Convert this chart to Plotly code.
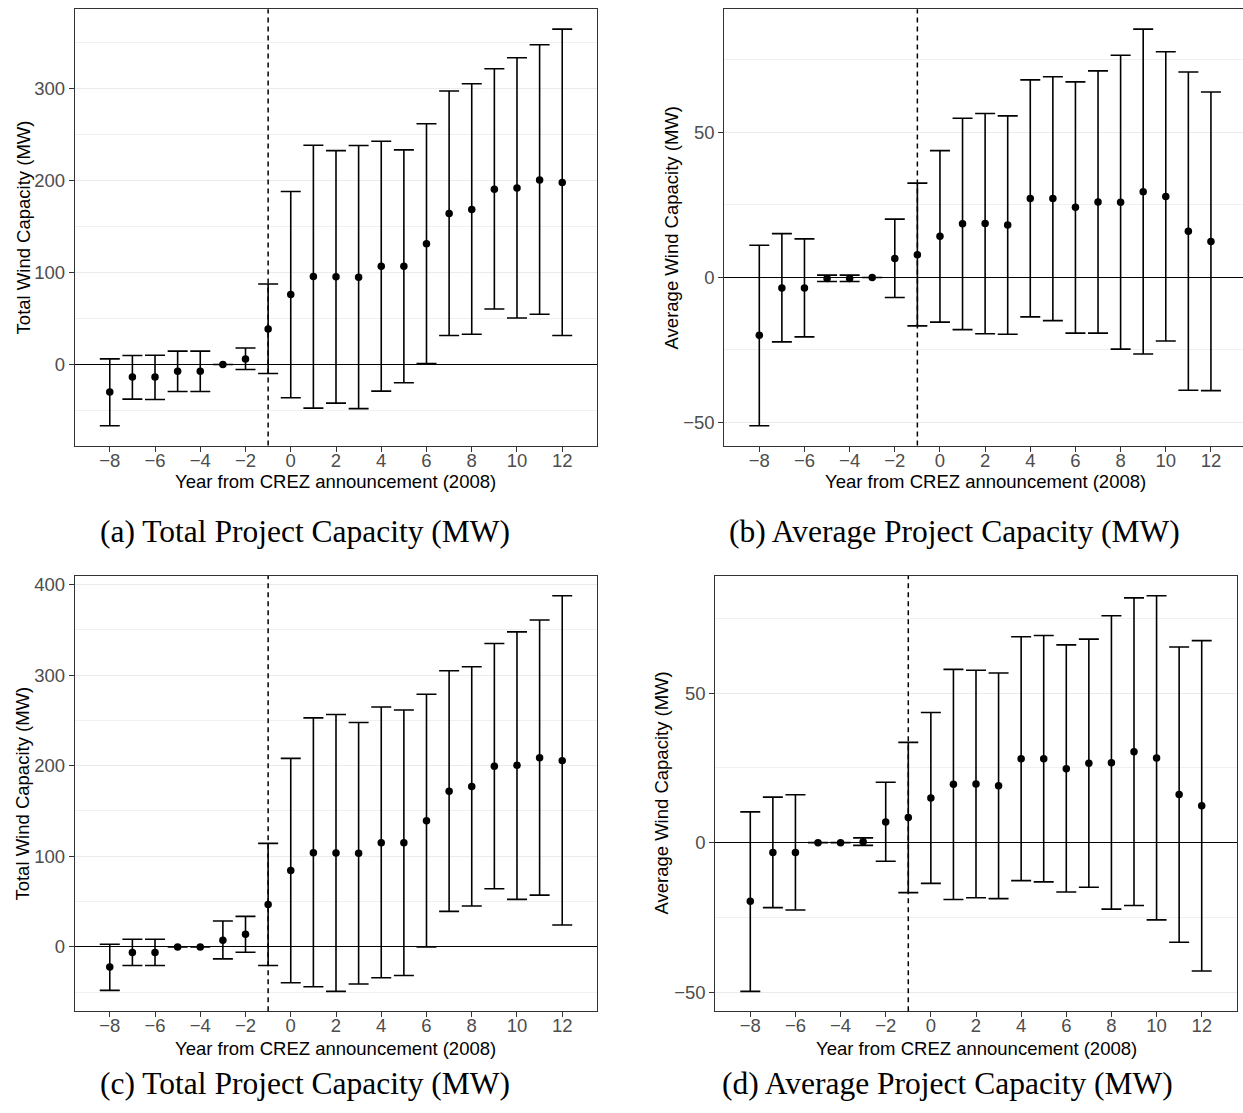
import plotly.graph_objects as go

# Event-study estimates with 95% confidence bounds, by year relative to 2008
years = [-8, -7, -6, -5, -4, -3, -2, -1, 0, 1, 2, 3, 4, 5, 6, 7, 8, 9, 10, 11, 12]

# (a) Total project capacity (MW)
a_est = [-30.0, -13.7, -13.7, -7.2, -7.2, 0.0, 6.1, 38.7, 76.0, 95.8, 95.5, 94.8, 106.7, 106.7, 131.3, 164.2, 168.5, 190.6, 192.0, 200.7, 197.8]
a_lo = [-66.5, -37.6, -38.0, -29.3, -29.3, 0.0, -5.4, -9.8, -36.2, -47.4, -42.0, -48.0, -28.9, -19.9, 1.1, 31.5, 32.9, 60.4, 50.6, 54.6, 31.5]
a_hi = [6.1, 9.8, 10.0, 14.5, 14.5, 0.0, 18.0, 87.5, 188.0, 238.3, 232.5, 238.0, 242.7, 233.3, 261.8, 297.3, 305.2, 321.5, 333.5, 347.6, 364.6]

# (b) Average project capacity (MW)
b_est = [-19.95, -3.67, -3.67, -0.34, -0.34, 0.0, 6.5, 7.8, 14.2, 18.5, 18.6, 18.1, 27.2, 27.2, 24.2, 26.0, 25.9, 29.5, 27.9, 15.9, 12.4]
b_lo = [-51.1, -22.2, -20.5, -1.4, -1.4, 0.0, -6.9, -16.7, -15.4, -18.0, -19.4, -19.6, -13.6, -14.9, -19.2, -19.2, -24.7, -26.4, -21.9, -38.9, -39.0]
b_hi = [11.1, 15.1, 13.3, 0.8, 0.8, 0.0, 20.1, 32.5, 43.7, 54.9, 56.5, 55.7, 68.1, 69.2, 67.4, 71.2, 76.6, 85.6, 77.8, 70.8, 63.9]

# (c) Total project capacity (MW), alternative specification
c_est = [-22.3, -6.2, -6.2, 0.0, 0.0, 7.3, 13.9, 46.9, 84.2, 104.0, 103.7, 103.3, 115.0, 115.0, 139.2, 171.8, 176.9, 199.3, 200.4, 208.8, 205.5]
c_lo = [-48.0, -20.5, -20.5, 0.0, 0.0, -13.2, -5.9, -20.5, -39.6, -44.0, -49.1, -41.0, -34.1, -31.5, 0.0, 39.2, 45.1, 64.1, 52.4, 57.1, 24.2]
c_hi = [2.9, 8.4, 8.4, 0.0, 0.0, 28.6, 33.7, 114.3, 208.0, 252.7, 256.4, 247.6, 264.8, 261.5, 278.8, 304.8, 309.2, 334.8, 347.6, 360.8, 387.5]

# (d) Average project capacity (MW), alternative specification
d_est = [-19.6, -3.3, -3.3, 0.0, 0.0, 0.3, 6.9, 8.4, 14.9, 19.5, 19.6, 19.0, 28.0, 28.0, 24.7, 26.5, 26.7, 30.4, 28.3, 16.1, 12.3]
d_lo = [-49.7, -21.7, -22.5, 0.0, 0.0, -0.9, -6.2, -16.7, -13.6, -19.0, -18.4, -18.7, -12.7, -13.1, -16.5, -14.9, -22.2, -21.0, -25.8, -33.3, -42.9]
d_hi = [10.3, 15.2, 16.0, 0.0, 0.0, 1.6, 20.2, 33.5, 43.5, 57.9, 57.6, 56.7, 68.8, 69.2, 66.1, 68.0, 75.8, 81.8, 82.5, 65.4, 67.5]

x_ticks = [-8, -6, -4, -2, 0, 2, 4, 6, 8, 10, 12]
event_year = -1
x_title = "Year from CREZ announcement (2008)"
total_title = "Total Wind Capacity (MW)"
avg_title = "Average Wind Capacity (MW)"
captions = ["(a) Total Project Capacity (MW)", "(b) Average Project Capacity (MW)",
            "(c) Total Project Capacity (MW)", "(d) Average Project Capacity (MW)"]

W, H = 1243, 1113
SANS = "Liberation Sans, Arial, sans-serif"
SERIF = "Liberation Serif, Times New Roman, serif"


def px_x(p):
    return p / W


def px_y(p):
    return 1 - p / H


# panel layout: (left, right, top, bottom) in pixels, x range, y-grid steps
panels = [
    dict(est=a_est, lo=a_lo, hi=a_hi, box=(74.7, 597.3, 7.3, 444.3), xr=[-9.55, 13.55],
         dtick=100, minor=50, ytitle=total_title, ytx=23, xtx=336, xty=480, cap=(305, 530), right=True),
    dict(est=b_est, lo=b_lo, hi=b_hi, box=(724.3, 1243, 7.3, 444.3), xr=[-9.55, 13.42],
         dtick=50, minor=25, ytitle=avg_title, ytx=671, xtx=985, xty=480, cap=(954, 530), right=False),
    dict(est=c_est, lo=c_lo, hi=c_hi, box=(74.7, 597.3, 575, 1011), xr=[-9.55, 13.55],
         dtick=100, minor=50, ytitle=total_title, ytx=23, xtx=336, xty=1048, cap=(305, 1083), right=True),
    dict(est=d_est, lo=d_lo, hi=d_hi, box=(715.3, 1236.7, 575, 1011), xr=[-9.55, 13.55],
         dtick=50, minor=25, ytitle=avg_title, ytx=662, xtx=976, xty=1048, cap=(947, 1083), right=True),
]

fig = go.Figure()
annotations = []
shapes = []

for i, p in enumerate(panels, start=1):
    xa = "x" if i == 1 else f"x{i}"
    ya = "y" if i == 1 else f"y{i}"
    up = [h - e for h, e in zip(p["hi"], p["est"])]
    dn = [e - l for e, l in zip(p["est"], p["lo"])]
    fig.add_trace(go.Scatter(
        x=years, y=p["est"], mode="markers", xaxis=xa, yaxis=ya, showlegend=False,
        marker=dict(color="black", size=7.5),
        error_y=dict(type="data", symmetric=False, array=up, arrayminus=dn,
                     color="black", thickness=1.6, width=10),
    ))

    lo_v, hi_v = min(p["lo"]), max(p["hi"])
    span = hi_v - lo_v
    yr = [lo_v - 0.05 * span, hi_v + 0.05 * span]

    left, right, top, bottom = p["box"]
    xkey = "xaxis" if i == 1 else f"xaxis{i}"
    ykey = "yaxis" if i == 1 else f"yaxis{i}"
    fig.update_layout({
        xkey: dict(domain=[px_x(left), px_x(right)], anchor=ya, range=p["xr"],
                   tickmode="array", tickvals=x_ticks, ticks="outside", ticklen=5,
                   tickcolor="#333333", tickwidth=1, ticklabelstandoff=-7,
                   tickfont=dict(family=SANS, size=18.5, color="#4D4D4D"),
                   showgrid=False, zeroline=False, showline=True, linecolor="#333333",
                   linewidth=1, mirror=True),
        ykey: dict(domain=[px_y(bottom), px_y(top)], anchor=xa, range=yr,
                   tickmode="linear", tick0=0, dtick=p["dtick"], ticks="outside", ticklen=5,
                   tickcolor="#333333", tickwidth=1,
                   tickfont=dict(family=SANS, size=18.5, color="#4D4D4D"),
                   showgrid=True, gridcolor="#EBEBEB", gridwidth=1,
                   minor=dict(tickmode="linear", tick0=0, dtick=p["minor"], showgrid=True,
                              gridcolor="#F0F0F0", gridwidth=0.8),
                   zeroline=True, zerolinecolor="black", zerolinewidth=1.4,
                   showline=True, linecolor="#333333", linewidth=1,
                   mirror=True if p["right"] else False),
    })

    # dashed reference line at the announcement year
    shapes.append(dict(type="line", xref=xa, yref=f"{ya} domain", x0=event_year, x1=event_year,
                       y0=0, y1=1, line=dict(color="black", width=1.5, dash="5px,4px")))

    annotations.append(dict(text=x_title, xref="paper", yref="paper", x=px_x(p["xtx"]),
                            y=px_y(p["xty"]), showarrow=False, xanchor="center", yanchor="middle",
                            font=dict(family=SANS, size=18.5, color="black")))
    annotations.append(dict(text=p["ytitle"], xref="paper", yref="paper", x=px_x(p["ytx"]),
                            y=px_y((top + bottom) / 2), textangle=-90, showarrow=False,
                            xanchor="center", yanchor="middle",
                            font=dict(family=SANS, size=18.5, color="black")))
    annotations.append(dict(text=captions[i - 1], xref="paper", yref="paper",
                            x=px_x(p["cap"][0]), y=px_y(p["cap"][1]), showarrow=False,
                            xanchor="center", yanchor="middle",
                            font=dict(family=SERIF, size=31.5, color="black")))

fig.update_layout(
    width=W, height=H, margin=dict(l=0, r=0, t=0, b=0),
    paper_bgcolor="white", plot_bgcolor="white",
    annotations=annotations, shapes=shapes,
)

fig.write_html("out.html")
